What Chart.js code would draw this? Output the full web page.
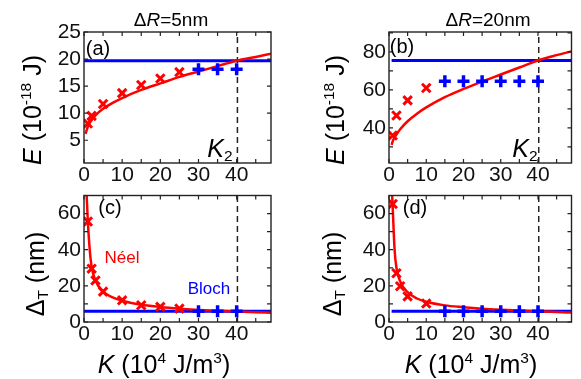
<!DOCTYPE html>
<html>
<head>
<meta charset="utf-8">
<script src="https://cdn.jsdelivr.net/npm/chart.js@4.4.0/dist/chart.umd.min.js"></script>
<style>
body{margin:0;width:581px;height:379px;background:#fff;position:relative;overflow:hidden;font-family:"Liberation Sans",Arial,sans-serif;}
canvas{position:absolute;}
.t{position:absolute;white-space:nowrap;color:#000;transform:translate(-50%,-50%);line-height:1;}
.rot{transform:translate(-50%,-50%) rotate(-90deg);}
sup{font-size:62%;vertical-align:0.6em;line-height:0;}
sub{font-size:62%;vertical-align:-0.3em;line-height:0;}
</style>
</head>
<body>
<canvas id="chA" width="290" height="186" style="left:0;top:0"></canvas>
<canvas id="chB" width="291" height="186" style="left:290px;top:0"></canvas>
<canvas id="chC" width="290" height="193" style="left:0;top:186px"></canvas>
<canvas id="chD" width="291" height="193" style="left:290px;top:186px"></canvas>

<div class="t" style="left:171px;top:19px;font-size:19px">&Delta;<i>R</i>=5nm</div>
<div class="t" style="left:488px;top:19px;font-size:19px">&Delta;<i>R</i>=20nm</div>

<div class="t rot" style="left:32px;top:110px;font-size:25px"><i>E</i> (10<sup>-18</sup> J)</div>
<div class="t rot" style="left:335px;top:110px;font-size:25px"><i>E</i> (10<sup>-18</sup> J)</div>
<div class="t rot" style="left:35px;top:274px;font-size:25px">&Delta;<sub>T</sub> (nm)</div>
<div class="t rot" style="left:332px;top:274px;font-size:25px">&Delta;<sub>T</sub> (nm)</div>

<div class="t" style="left:164px;top:364px;font-size:25px"><i>K</i> (10<sup>4</sup> J/m<sup>3</sup>)</div>
<div class="t" style="left:471px;top:364px;font-size:25px"><i>K</i> (10<sup>4</sup> J/m<sup>3</sup>)</div>

<div class="t" style="left:98px;top:48px;font-size:20px">(a)</div>
<div class="t" style="left:402px;top:46px;font-size:20px">(b)</div>
<div class="t" style="left:110px;top:207px;font-size:20px">(c)</div>
<div class="t" style="left:415px;top:207px;font-size:20px">(d)</div>

<div class="t" style="left:220px;top:148px;font-size:25px"><i>K</i><sub>2</sub></div>
<div class="t" style="left:525px;top:148px;font-size:25px"><i>K</i><sub>2</sub></div>

<div class="t" style="left:122px;top:257px;font-size:17px;color:#f00">Néel</div>
<div class="t" style="left:209px;top:288px;font-size:17px;color:#00f">Bloch</div>

<script>
// K axis, shared by all panels
const kMin = 0, kMax = 49;
const kLabels = [0, 10, 20, 30, 40];
const kMarks = [0, 5, 10, 15, 20, 25, 30, 35, 40, 45];
const kTwo = 40.2;

// (a) dR = 5 nm, energy
const kCurveA = [0.4, 1, 2, 3, 5, 7.5, 10, 15, 20, 25, 30, 35, 40, 45, 49];
const eCurveA = [6.2, 7.5, 8.8, 9.6, 10.8, 11.9, 12.8, 14.3, 15.5, 16.7, 17.7, 18.7, 19.7, 20.4, 21.0];
const kNeelA = [1, 2, 5, 10, 15, 20, 25];
const eNeelA = [8.1, 9.5, 11.7, 13.7, 15.2, 16.4, 17.6];
const kBlochA = [30, 35, 40];
const eBlochA = [18.1, 18.1, 18.1];
const eLineA = 19.7;
const yLabelsA = [5, 10, 15, 20, 25];

// (b) dR = 20 nm, energy
const kCurveB = [0.7, 1, 2, 3, 5, 7.5, 10, 15, 20, 25, 30, 35, 40, 45, 49];
const eCurveB = [31, 33, 36.5, 39.3, 43.5, 47.5, 50.8, 56.2, 60.5, 64.4, 68.1, 71.8, 75.5, 78.3, 80.3];
const kNeelB = [1, 2, 5, 10];
const eNeelB = [36, 46.5, 54.5, 61];
const kBlochB = [15, 20, 25, 30, 35, 40];
const eBlochB = [64.5, 64.5, 64.5, 64.5, 64.5, 64.5];
const eLineB = 75.5;
const yLabelsB = [40, 60, 80];
const yMarksB = [30, 40, 50, 60, 70, 80, 90];

// (c) dR = 5 nm, wall width
const kCurveC = [0.7, 1, 1.5, 2, 3, 5, 7.5, 10, 15, 20, 25, 30, 35, 40, 45, 49];
const wCurveC = [70, 56, 40, 30.5, 23, 16.8, 13.6, 11.8, 9.5, 8.3, 7.4, 6.7, 6.2, 5.8, 5.4, 5.1];
const kNeelC = [1, 2, 3, 5, 10, 15, 20, 25];
const wNeelC = [55.6, 29.5, 23, 16.8, 12, 9.3, 8.4, 7.4];
const kBlochC = [30, 35, 40];
const wBlochC = [5.9, 5.9, 5.9];
const wLineC = 6;

// (d) dR = 20 nm, wall width
const kCurveD = [0.85, 1, 1.5, 2, 3, 5, 7.5, 10, 15, 20, 25, 30, 35, 40, 45, 49];
const wCurveD = [70, 63, 40, 30, 22.5, 16.5, 13, 11.2, 9.2, 8.2, 7.4, 6.8, 6.3, 5.9, 5.5, 5.2];
const kNeelD = [1, 2, 3, 5, 10];
const wNeelD = [65.3, 27, 19.8, 14.2, 10.2];
const kBlochD = [15, 20, 25, 30, 35, 40];
const wBlochD = [6, 6, 6, 6, 6, 6];
const wLineD = 6;

const wLabels = [0, 20, 40, 60];
const wMarks = [0, 10, 20, 30, 40, 50, 60];

const RED = 'rgb(255,0,0)';
const BLUE = 'rgb(0,0,255)';

const pts = (xs, ys) => xs.map((x, i) => ({x: x, y: ys[i]}));

const frame = (xMarks, yMarks) => ({
    id: 'frame',
    afterDraw: (chart) => {
        const ctx = chart.ctx;
        const a = chart.chartArea;
        const x = chart.scales.x, y = chart.scales.y;
        ctx.save();
        ctx.strokeStyle = '#222';
        ctx.lineWidth = 1.4;
        ctx.strokeRect(a.left, a.top, a.right - a.left, a.bottom - a.top);
        ctx.lineWidth = 1.2;
        ctx.beginPath();
        xMarks.forEach(v => {
            const px = x.getPixelForValue(v);
            ctx.moveTo(px, a.bottom); ctx.lineTo(px, a.bottom - 4);
            ctx.moveTo(px, a.top); ctx.lineTo(px, a.top + 4);
        });
        yMarks.forEach(v => {
            const py = y.getPixelForValue(v);
            ctx.moveTo(a.left, py); ctx.lineTo(a.left + 4, py);
            ctx.moveTo(a.right, py); ctx.lineTo(a.right - 4, py);
        });
        ctx.stroke();
        ctx.restore();
    }
});

const makeChart = (id, p) => {
    const ctx = document.getElementById(id).getContext('2d');
    return new Chart(ctx, {
        type: 'scatter',
        plugins: [frame(kMarks, p.yMarks)],
        data: {
            datasets: [{
                data: pts(p.kNeel, p.vNeel),
                pointStyle: 'crossRot', pointRadius: 6, borderWidth: 3,
                borderColor: RED, backgroundColor: RED
            }, {
                data: pts(p.kBloch, p.vBloch),
                pointStyle: 'cross', pointRadius: 6, borderWidth: 3.5,
                borderColor: BLUE, backgroundColor: BLUE
            }, {
                data: pts(p.kCurve, p.vCurve),
                showLine: true, pointRadius: 0, borderWidth: 2.5,
                cubicInterpolationMode: 'monotone',
                borderColor: RED
            }, {
                data: [{x: p.lineStart, y: p.vLine}, {x: kMax, y: p.vLine}],
                showLine: true, pointRadius: 0, borderWidth: 3,
                borderColor: BLUE
            }, {
                data: [{x: kTwo, y: p.yMin}, {x: kTwo, y: p.yMax}],
                showLine: true, pointRadius: 0, borderWidth: 1.5,
                borderDash: [6, 4], borderColor: '#222'
            }]
        },
        options: {
            responsive: false,
            animation: false,
            devicePixelRatio: 1,
            layout: {padding: {top: p.padTop, right: p.padRight, left: 0, bottom: 0}},
            plugins: {legend: {display: false}, tooltip: {enabled: false}},
            scales: {
                x: {
                    type: 'linear', min: kMin, max: kMax,
                    grid: {display: false, drawTicks: false},
                    border: {display: false},
                    ticks: {color: '#111', font: {family: 'Liberation Sans', size: 21}, padding: 0, maxRotation: 0},
                    afterBuildTicks: (s) => { s.ticks = kLabels.map(v => ({value: v})); },
                    afterFit: (s) => { s.height = p.xHeight; s.paddingLeft = 0; s.paddingRight = 0; }
                },
                y: {
                    type: 'linear', min: p.yMin, max: p.yMax,
                    grid: {display: false, drawTicks: false},
                    border: {display: false},
                    ticks: {color: '#111', font: {family: 'Liberation Sans', size: 21}, padding: 3},
                    afterBuildTicks: (s) => { s.ticks = p.yLabels.map(v => ({value: v})); },
                    afterFit: (s) => { s.width = p.yWidth; s.paddingTop = 0; s.paddingBottom = 0; }
                }
            }
        }
    });
};

makeChart('chA', {
    kCurve: kCurveA, vCurve: eCurveA, kNeel: kNeelA, vNeel: eNeelA,
    kBloch: kBlochA, vBloch: eBlochA, vLine: eLineA, lineStart: 0,
    yMin: 0.8, yMax: 25, yLabels: yLabelsA, yMarks: yLabelsA,
    padTop: 32, padRight: 19, yWidth: 84, xHeight: 23
});
makeChart('chB', {
    kCurve: kCurveB, vCurve: eCurveB, kNeel: kNeelB, vNeel: eNeelB,
    kBloch: kBlochB, vBloch: eBlochB, vLine: eLineB, lineStart: 0.7,
    yMin: 21.5, yMax: 90.5, yLabels: yLabelsB, yMarks: yMarksB,
    padTop: 32, padRight: 5, yWidth: 99, xHeight: 23
});
makeChart('chC', {
    kCurve: kCurveC, vCurve: wCurveC, kNeel: kNeelC, vNeel: wNeelC,
    kBloch: kBlochC, vBloch: wBlochC, vLine: wLineC, lineStart: 0,
    yMin: 0, yMax: 70, yLabels: wLabels, yMarks: wMarks,
    padTop: 4, padRight: 19, yWidth: 84, xHeight: 57
});
makeChart('chD', {
    kCurve: kCurveD, vCurve: wCurveD, kNeel: kNeelD, vNeel: wNeelD,
    kBloch: kBlochD, vBloch: wBlochD, vLine: wLineD, lineStart: 0.7,
    yMin: 0, yMax: 70, yLabels: wLabels, yMarks: wMarks,
    padTop: 4, padRight: 5, yWidth: 99, xHeight: 57
});
</script>
</body>
</html>
